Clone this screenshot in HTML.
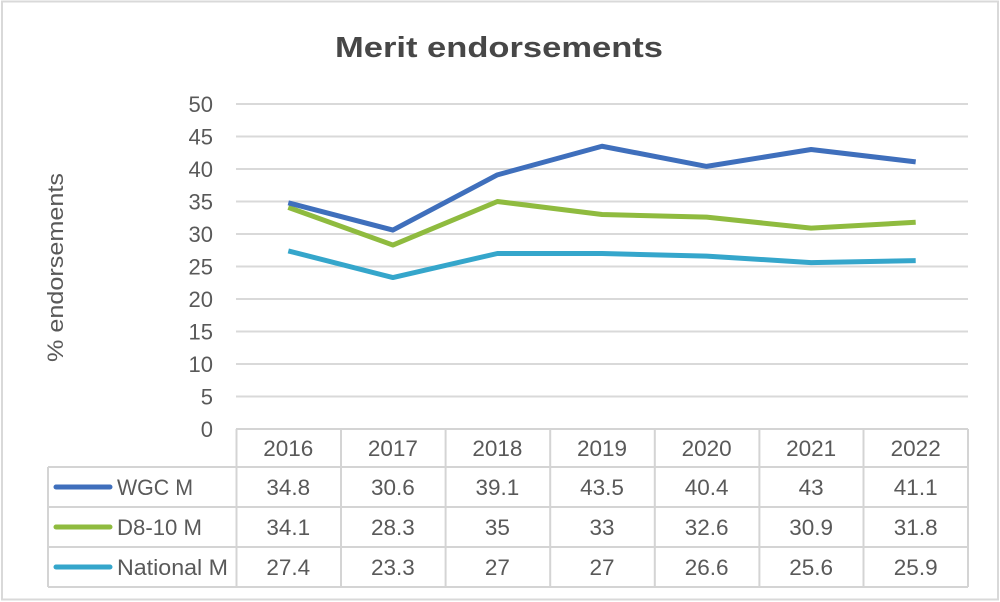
<!DOCTYPE html>
<html>
<head>
<meta charset="utf-8">
<style>
  html, body { margin:0; padding:0; background:#fff; }
  svg { display:block; }
  text { font-family: "Liberation Sans", sans-serif; fill:#595959; }
</style>
</head>
<body>
<svg width="1000" height="602" viewBox="0 0 1000 602" xmlns="http://www.w3.org/2000/svg">
  <rect x="0" y="0" width="1000" height="602" fill="#fff"/>
  <rect x="2" y="1.5" width="996" height="598" fill="none" stroke="#d9d9d9" stroke-width="2"/>

  <!-- Title -->
  <text x="335" y="57" font-size="29" font-weight="bold" style="fill:#474747" textLength="328" lengthAdjust="spacingAndGlyphs">Merit endorsements</text>

  <!-- Y axis title -->
  <text transform="translate(63,362) rotate(-90)" x="0" y="0" font-size="22" textLength="189" lengthAdjust="spacingAndGlyphs">% endorsements</text>

  <!-- Gridlines -->
  <g stroke="#d9d9d9" stroke-width="2">
    <line x1="236" y1="104" x2="968" y2="104"/>
    <line x1="236" y1="136.5" x2="968" y2="136.5"/>
    <line x1="236" y1="169" x2="968" y2="169"/>
    <line x1="236" y1="201.5" x2="968" y2="201.5"/>
    <line x1="236" y1="234" x2="968" y2="234"/>
    <line x1="236" y1="266.5" x2="968" y2="266.5"/>
    <line x1="236" y1="299" x2="968" y2="299"/>
    <line x1="236" y1="331.5" x2="968" y2="331.5"/>
    <line x1="236" y1="364" x2="968" y2="364"/>
    <line x1="236" y1="396.5" x2="968" y2="396.5"/>
  </g>

  <!-- Y tick labels -->
  <g font-size="22" text-anchor="end">
    <text x="213" y="112">50</text>
    <text x="213" y="144.5">45</text>
    <text x="213" y="177">40</text>
    <text x="213" y="209.5">35</text>
    <text x="213" y="242">30</text>
    <text x="213" y="274.5">25</text>
    <text x="213" y="307">20</text>
    <text x="213" y="339.5">15</text>
    <text x="213" y="372">10</text>
    <text x="213" y="404.5">5</text>
    <text x="213" y="437">0</text>
  </g>

  <!-- Series lines: y = 429 - v*6.5 -->
  <g fill="none" stroke-width="5" stroke-linejoin="round">
    <polyline stroke="#35a6cb" points="288.3,250.9 392.9,277.55 497.4,253.5 602,253.5 706.6,256.1 811.1,262.6 915.7,260.65"/>
    <polyline stroke="#8fbb3f" points="288.3,207.35 392.9,245.05 497.4,201.5 602,214.5 706.6,217.1 811.1,228.15 915.7,222.3"/>
    <polyline stroke="#3f6fbc" points="288.3,202.8 392.9,230.1 497.4,174.85 602,146.25 706.6,166.4 811.1,149.5 915.7,161.85"/>
  </g>

  <!-- Data table -->
  <g stroke="#d4d4d4" stroke-width="2" fill="none">
    <line x1="236" y1="429" x2="968" y2="429"/>
    <line x1="48" y1="467" x2="968" y2="467"/>
    <line x1="48" y1="507" x2="968" y2="507"/>
    <line x1="48" y1="547" x2="968" y2="547"/>
    <line x1="48" y1="587" x2="968" y2="587"/>
    <line x1="48" y1="467" x2="48" y2="587"/>
    <line x1="236.5" y1="429" x2="236.5" y2="587"/>
    <line x1="341" y1="429" x2="341" y2="587"/>
    <line x1="445.6" y1="429" x2="445.6" y2="587"/>
    <line x1="550.2" y1="429" x2="550.2" y2="587"/>
    <line x1="654.8" y1="429" x2="654.8" y2="587"/>
    <line x1="759.4" y1="429" x2="759.4" y2="587"/>
    <line x1="863.5" y1="429" x2="863.5" y2="587"/>
    <line x1="968" y1="429" x2="968" y2="587"/>
  </g>

  <!-- Legend keys -->
  <g stroke-width="5" stroke-linecap="round">
    <line x1="56" y1="487" x2="110" y2="487" stroke="#3f6fbc"/>
    <line x1="56" y1="527" x2="110" y2="527" stroke="#8fbb3f"/>
    <line x1="56" y1="567" x2="110" y2="567" stroke="#35a6cb"/>
  </g>
  <g font-size="22">
    <text x="117" y="495" textLength="76" lengthAdjust="spacingAndGlyphs">WGC M</text>
    <text x="117" y="535" textLength="85" lengthAdjust="spacingAndGlyphs">D8-10 M</text>
    <text x="117" y="575" textLength="111" lengthAdjust="spacingAndGlyphs">National M</text>
  </g>

  <g font-size="22.5" text-anchor="middle">
    <text x="288.3" y="456">2016</text>
    <text x="392.9" y="456">2017</text>
    <text x="497.4" y="456">2018</text>
    <text x="602" y="456">2019</text>
    <text x="706.6" y="456">2020</text>
    <text x="811.1" y="456">2021</text>
    <text x="915.7" y="456">2022</text>

    <text x="288.3" y="495">34.8</text>
    <text x="392.9" y="495">30.6</text>
    <text x="497.4" y="495">39.1</text>
    <text x="602" y="495">43.5</text>
    <text x="706.6" y="495">40.4</text>
    <text x="811.1" y="495">43</text>
    <text x="915.7" y="495">41.1</text>

    <text x="288.3" y="535">34.1</text>
    <text x="392.9" y="535">28.3</text>
    <text x="497.4" y="535">35</text>
    <text x="602" y="535">33</text>
    <text x="706.6" y="535">32.6</text>
    <text x="811.1" y="535">30.9</text>
    <text x="915.7" y="535">31.8</text>

    <text x="288.3" y="575">27.4</text>
    <text x="392.9" y="575">23.3</text>
    <text x="497.4" y="575">27</text>
    <text x="602" y="575">27</text>
    <text x="706.6" y="575">26.6</text>
    <text x="811.1" y="575">25.6</text>
    <text x="915.7" y="575">25.9</text>
  </g>
</svg>
</body>
</html>
